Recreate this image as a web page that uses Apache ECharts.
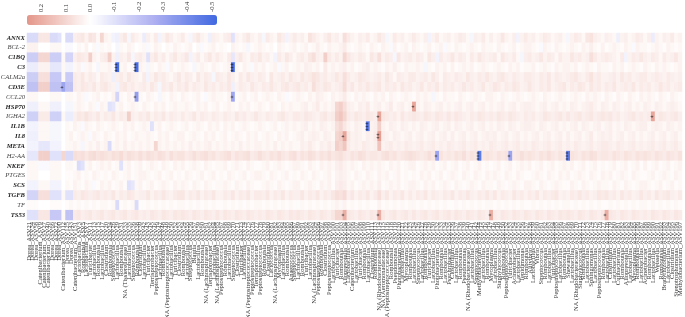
<!DOCTYPE html>
<html lang="en">
<head>
<meta charset="UTF-8">
<title>Gene - ASV correlation heatmap</title>
<script src="https://cdn.jsdelivr.net/npm/echarts@6.0.0/dist/echarts.min.js"></script>
<style>
  html, body { margin: 0; padding: 0; background: #fff; }
  #main { width: 685px; height: 317px; }
</style>
</head>
<body>
<div id="main"></div>
<script>
// genes, top to bottom
const genes = ['ANNX','BCL-2','C1BQ','C3','CALM2a','CD3E','CCL20','HSP70','IGHA2','IL1B',
  'IL8','META','H2-AA','NKEF','PTGES','SCS','TGFB','TF','TS53'];
const plainGenes = ['BCL-2','CALM2a','CCL20','IGHA2','H2-AA','PTGES','TF'];

const taxa = [
  'Dorea_ASV21','Dorea_ASV34','Dorea_ASV58','Catenibacterium_ASV9','Catenibacterium_ASV27','Catenibacterium_ASV40','Dorea_ASV66','Dorea_ASV72','Dorea_ASV90','Catenibacterium_ASV112',
  'Dorea_ASV125','Dorea_ASV143','Catenibacterium_ASV151','Lactobacillus_ASV3','Romboutsia_ASV5','Lactobacillus_ASV7','Turicibacter_ASV11','Lactobacillus_ASV13','Romboutsia_ASV15','Lactobacillus_ASV17',
  'Clostridium_ASV20','Romboutsia_ASV24','Streptococcus_ASV26','Lactobacillus_ASV29','Romboutsia_ASV31','NA (Tissierellaceae)_ASV33','Lactobacillus_ASV35','Streptococcus_ASV36','Romboutsia_ASV38','Clostridium_ASV39',
  'Lactobacillus_ASV42','Turicibacter_ASV43','Terrisporobacter_ASV45','Peptostreptococcus_ASV46','Lactobacillus_ASV47','Romboutsia_ASV48','NA (Peptostreptococcaceae)_ASV49','Lactobacillus_ASV50','Turicibacter_ASV52','Clostridium_ASV53',
  'Romboutsia_ASV54','Lactobacillus_ASV55','Streptococcus_ASV56','Blautia_ASV57','Lactobacillus_ASV59','Romboutsia_ASV60','NA (Lachnospiraceae)_ASV61','Terrisporobacter_ASV62','Lactobacillus_ASV64','NA (Lachnospiraceae)_ASV65',
  'Peptostreptococcus_ASV67','Romboutsia_ASV68','Lactobacillus_ASV69','Streptococcus_ASV70','Clostridium_ASV71','Turicibacter_ASV73','Lactobacillus_ASV74','NA (Peptostreptococcaceae)_ASV75','Peptostreptococcus_ASV76','Terrisporobacter_ASV77',
  'Peptostreptococcus_ASV78','Romboutsia_ASV79','Clostridium_ASV80','Lactococcus_ASV81','NA (Lachnospiraceae)_ASV82','Mycoplasma_ASV83','Lactobacillus_ASV84','Romboutsia_ASV85','Anaerococcus_ASV86','Streptococcus_ASV87',
  'Lactobacillus_ASV89','Romboutsia_ASV91','Turicibacter_ASV92','Lactobacillus_ASV93','NA (Lachnospiraceae)_ASV94','Peptostreptococcus_ASV96','Romboutsia_ASV97','Clostridium_ASV98','Peptostreptococcus_ASV99','Lactobacillus_ASV100',
  'Turicibacter_ASV101','Romboutsia_ASV103','Alloprevotella_ASV104','Lactobacillus_ASV105','Catenibacterium_ASV106','Lactobacillus_ASV107','Turicibacter_ASV108','Romboutsia_ASV109','Lactobacillus_ASV110','Clostridium_ASV111',
  'Romboutsia_ASV113','NA (Rhodobacteraceae)_ASV114','NA (Aeromonadaceae)_ASV115','NA (Peptostreptococcaceae)_ASV116','Romboutsia_ASV118','Pseudomonas_ASV119','Photobacterium_ASV120','Lactobacillus_ASV121','Mycoplasma_ASV122','Romboutsia_ASV123',
  'Lactobacillus_ASV124','Streptococcus_ASV126','Lactobacillus_ASV127','Romboutsia_ASV128','Turicibacter_ASV129','Lactobacillus_ASV130','Photobacterium_ASV132','Romboutsia_ASV133','Lactobacillus_ASV134','Psychrobacter_ASV135',
  'Clostridium_ASV136','Lactobacillus_ASV137','Romboutsia_ASV138','Pseudomonas_ASV139','NA (Rhodobacteraceae)_ASV140','Lactobacillus_ASV141','Streptococcus_ASV142','Methylobacterium_ASV144','Lactobacillus_ASV145','Romboutsia_ASV146',
  'Mycoplasma_ASV147','Lactobacillus_ASV148','Staphylococcus_ASV149','Romboutsia_ASV150','Peptostreptococcus_ASV152','Turicibacter_ASV153','Acinetobacter_ASV154','Lactobacillus_ASV155','Tepidimonas_ASV156','Romboutsia_ASV157',
  'Aliivibrio_ASV158','Lactobacillus_ASV159','Vibrio_ASV160','Streptococcus_ASV161','Romboutsia_ASV162','Lactobacillus_ASV163','Turicibacter_ASV164','Peptostreptococcus_ASV165','Lactobacillus_ASV166','Romboutsia_ASV167',
  'Shewanella_ASV168','Lactobacillus_ASV169','NA (Rhodobacteraceae)_ASV170','Staphylococcus_ASV171','Romboutsia_ASV172','Lactobacillus_ASV173','Sphingomonas_ASV174','Lactobacillus_ASV175','Peptostreptococcus_ASV176','Romboutsia_ASV177',
  'Lactobacillus_ASV178','Clostridium_ASV179','Lactobacillus_ASV180','Cutibacterium_ASV181','Romboutsia_ASV182','Alloprevotella_ASV183','Lactobacillus_ASV184','Mycoplasma_ASV185','Romboutsia_ASV186','Lactobacillus_ASV187',
  'Acinetobacter_ASV188','Romboutsia_ASV189','Lactobacillus_ASV190','Weissella_ASV191','Romboutsia_ASV192','Bradyrhizobium_ASV193','Lactobacillus_ASV194','Clostridium_ASV195','Stenotrophomonas_ASV196','Methylobacterium_ASV197'
];

// correlation of each gene with each ASV (same order as taxa)
const ANNX = [
  -.12,-.12,-.12,.06,.06,.06,-.12,-.12,-.1,0,
  -.12,-.12,.04,.05,.06,.03,.07,.06,.02,.1,
  .03,.02,-.04,-.05,.04,.06,-.03,.05,.03,.02,
  -.06,.04,.02,.05,-.04,.03,.06,.04,.02,.03,
  .05,.02,-.03,.04,.06,.03,.02,-.05,.04,.03,
  .02,.04,.05,-.1,.03,.02,.04,.06,.03,.02,
  .04,-.03,.05,.03,.02,.06,.04,-.04,.03,.05,
  .03,.04,.02,.07,.05,.03,.02,.04,.06,.03,
  .04,.02,.08,.05,.03,.02,.04,.03,.05,.02,
  .03,.06,.04,-.03,.02,.05,.03,.04,.02,.03,
  .05,.03,.02,.04,-.04,.03,.05,.02,.03,.04,
  .02,.03,.05,.04,.02,-.03,.04,.03,.05,.02,
  .04,.02,.03,.06,.03,.02,.04,-.04,.03,.05,
  .03,.04,.02,.03,.05,.04,.02,.03,.04,.02,
  -.03,.03,.05,.04,.02,.06,.07,.04,.03,.02,
  .04,.03,.02,-.05,.03,.04,.02,.03,.05,.04,
  .02,.04,-.06,.03,.02,.04,.03,.05,.02,.03
];
const BCL2 = [
  .03,.03,.03,0,0,0,.02,.02,.02,0,
  -.02,-.02,0,.02,.01,.03,0,.02,-.02,.02,
  .01,.02,0,-.03,.02,.01,.03,.02,0,.01,
  .02,-.02,.01,.03,.02,0,.02,.01,.03,.02,
  .01,.02,.03,0,.02,-.02,.01,.02,.03,.01,
  .02,.01,0,.03,.02,.01,.02,-.03,.01,.02,
  .03,.02,.01,.02,0,.03,.02,.01,.02,.03,
  .01,.02,.03,.01,.02,.04,.02,.01,.03,.02,
  .02,.03,.05,.02,.01,.02,.03,.02,.01,.03,
  .02,.01,.03,.02,-.02,.03,.01,.02,.03,.01,
  .03,.02,.01,.02,.03,.01,.02,.03,-.02,.02,
  .01,.03,.02,.01,.02,.03,.02,.01,.03,.02,
  .02,.01,.03,.02,.01,.02,.03,.01,.02,.03,
  .03,.02,.01,-.02,.03,.02,.01,.03,.02,.01,
  .02,.03,.02,.01,.03,.02,.04,.02,.01,.03,
  .01,.02,.03,.02,.01,.03,.02,-.02,.03,.02,
  .02,.01,.02,.03,.02,.01,.03,.02,.01,.02
];
const C1BQ = [
  -.16,-.16,-.16,.1,.1,.1,-.16,-.16,-.16,.02,
  -.14,-.14,.04,.06,.05,.04,.12,.03,.02,.04,
  .05,.12,.03,-.05,.04,.03,.06,-.03,.04,.05,
  .03,-.1,.04,.06,.03,.05,.02,.04,.06,.03,
  .04,.06,-.04,.03,.05,.02,.04,.06,.03,.05,
  .03,.02,.05,-.08,.04,.06,.03,.02,.05,.04,
  .06,.03,.04,.02,-.04,.05,.03,.06,.04,.02,
  .04,.05,.03,.06,.08,.04,.03,.12,.05,.03,
  .05,.03,.1,.06,.04,.03,.05,.04,.02,.06,
  .04,.08,.03,.05,.04,-.03,.06,.03,.04,.05,
  .03,.05,.04,.02,.06,.04,-.04,.05,.03,.04,
  .06,.03,.05,.04,.02,.05,.03,.06,.04,.03,
  .04,.05,.02,.06,.04,.03,.05,.02,-.03,.04,
  .05,.03,.04,.06,.03,.05,.04,.02,.05,.03,
  .03,.06,.04,.05,.03,.04,.08,.05,.03,.04,
  .05,.04,.03,.02,.05,-.04,.03,.05,.04,.06,
  .04,.03,.05,.04,.02,.05,.03,.04,.06,.03
];
const C3 = [
  -.06,-.06,-.06,.03,.03,.03,-.08,-.08,-.08,.02,
  -.04,-.04,.02,.03,-.02,.02,.03,.01,-.03,.02,
  .02,.03,-.02,-.5,.02,.03,.01,.02,-.5,.03,
  .02,-.03,.02,.01,.03,.02,-.02,.03,.01,.02,
  .03,.02,.01,-.03,.02,.03,.02,.01,.03,.02,
  .01,.02,.03,-.5,.02,.01,.03,.02,-.02,.03,
  .02,.03,.01,.02,.03,-.02,.02,.03,.01,.02,
  .03,.02,.04,.03,.02,.03,.01,.05,.02,.03,
  .02,.03,.04,.02,.03,.01,.02,.03,.04,.02,
  .03,.02,.01,.03,.02,.04,.02,.01,.03,.02,
  .02,.03,.02,-.03,.02,.01,.03,.02,.03,.01,
  .03,.01,.02,.03,.02,.03,.01,.02,.03,.02,
  .01,.02,.03,.02,.01,.03,.02,.03,.01,.02,
  .02,.03,.01,.02,.03,.02,.01,.03,.02,.03,
  .03,.02,.03,.01,.02,.03,.02,.01,.03,.02,
  .02,.01,.03,.02,.03,.01,.02,.03,.02,.01,
  .03,.02,.01,.03,.02,.03,.02,.01,.02,.03
];
const CALM2a = [
  -.16,-.16,-.16,.08,.08,.08,-.18,-.18,-.18,.02,
  -.17,-.17,.05,.04,.06,.03,.05,.04,.02,.05,
  .04,.03,-.05,.04,.05,.03,.06,.04,.03,.02,
  .05,-.04,.03,.06,.04,.05,.03,.02,.04,.06,
  .03,.05,.04,.02,.06,.03,.05,.04,-.03,.05,
  .04,.03,.06,.04,.02,.05,.03,.06,.04,.03,
  .05,.04,.02,.06,.03,.04,.05,.03,.06,.04,
  .03,.06,.04,.05,.07,.06,.04,.05,.03,.04,
  .06,.04,.08,.05,.03,.04,.06,.05,.04,.03,
  .04,.05,.03,.06,.04,.02,.05,.04,.03,.05,
  .05,.03,.04,.05,.03,.06,.04,.02,.05,.04,
  .03,.05,.04,.03,.06,.04,.03,.05,.04,.06,
  .04,.03,.05,.06,.04,.03,.05,.04,.03,.05,
  .05,.04,.03,.05,.04,.06,.03,.05,.04,.03,
  .04,.05,.06,.04,.03,.05,.07,.04,.05,.03,
  .03,.04,.05,.03,.06,.04,.05,.03,.04,.05,
  .05,.03,.04,.05,.04,.03,.05,.04,.03,.04
];
const CD3E = [
  -.2,-.2,-.2,.12,.12,.12,-.2,-.2,-.2,-.3,
  -.2,-.2,.05,.04,.06,.05,.04,.06,.03,.05,
  .06,.04,.03,-.04,.05,.06,.04,.05,.03,.04,
  .05,.03,.06,.04,-.03,.05,.04,.06,.03,.05,
  .04,.06,.03,.05,.04,.03,.06,.04,.05,.03,
  .05,.04,.06,-.05,.03,.05,.04,.03,.06,.04,
  .03,.05,.04,.06,.04,.03,.05,.06,.04,.05,
  .06,.04,.05,.03,.08,.05,.04,.06,.05,.03,
  .04,.05,.09,.04,.06,.03,.05,.04,.06,.04,
  .05,.06,.03,.05,.04,.05,.03,.06,.04,.05,
  .03,.04,.06,.03,.05,.04,.06,.03,.05,.04,
  .05,.03,.04,.06,.04,.05,.03,.04,.06,.03,
  .04,.06,.05,.03,.05,.04,.06,.05,.03,.04,
  .06,.04,.03,.05,.04,.06,.03,.04,.05,.06,
  .03,.05,.04,.06,.05,.03,.06,.04,.05,.03,
  .05,.04,.06,.03,.04,.05,.04,.06,.03,.05,
  .04,.05,.03,.04,.06,.04,.05,.03,.04,.05
];
const CCL20 = [
  .02,.02,.02,0,0,0,.02,.02,.02,0,
  .02,.02,.01,.03,.02,-.02,.01,.02,.03,.01,
  .02,.01,.03,-.14,.02,.01,.03,.02,-.32,.02,
  .01,.03,.02,.01,-.03,.02,.01,.03,.02,.01,
  .03,.02,.01,.02,.03,.01,-.02,.02,.03,.02,
  .02,.01,.03,-.3,.01,.02,.03,.01,.02,.03,
  .01,.02,.03,.02,.01,.03,.02,-.02,.01,.02,
  .03,.02,.01,.03,.02,.04,.03,.02,.01,.03,
  .02,.03,.05,.02,.01,.03,.02,.03,.02,.01,
  .03,.02,.03,.01,.03,.02,.01,.02,.03,.02,
  .01,.03,.02,.03,.02,-.03,.02,.01,.03,.02,
  .02,.01,.03,.02,.01,.02,.03,.02,.01,.03,
  .03,.02,.01,.03,.02,.01,.02,.03,.02,.01,
  .02,.03,.02,.01,.03,.02,.01,.02,.03,.02,
  .01,.02,.03,.02,.01,.03,.02,.03,.02,.01,
  .03,.02,.01,.03,.02,.01,.03,.02,.01,.03,
  .02,.03,.02,.01,.03,.02,.01,.03,.02,.01
];
const HSP70 = [
  -.05,-.05,-.05,.02,.02,.02,-.05,-.05,-.05,0,
  -.03,-.03,.02,.03,.02,.01,.03,.02,-.02,.03,
  .02,-.1,-.08,.02,.03,.01,.02,.03,.02,.01,
  .03,.02,.01,.03,.02,.03,.01,.02,.03,.02,
  .02,.03,.02,.01,.03,.02,.03,.01,.02,.03,
  .01,.02,.03,.02,.01,.03,.02,.03,.01,.02,
  .03,.02,.01,.03,.02,.01,.03,.02,.03,.02,
  .02,.03,.04,.02,.03,.05,.02,.03,.02,.03,
  .1,.12,.08,.04,.03,.02,.04,.03,.05,.02,
  .03,.04,.02,.03,.05,.02,.03,.04,.02,.03,
  .22,.03,.02,.04,.03,.02,.03,.04,.02,.03,
  .02,.03,.04,.02,.03,.04,.02,.03,.04,.02,
  .03,.02,.03,.04,.02,.03,.04,.02,.03,.04,
  .04,.03,.02,.03,.04,.02,.03,.04,.02,.03,
  .02,.04,.03,.02,.03,.04,.05,.03,.02,.04,
  .03,.02,.04,.03,.02,.03,.04,.02,.03,.02,
  .04,.03,.02,.04,.03,.02,.03,.04,.03,.02
];
const IGHA2 = [
  -.15,-.15,-.15,.05,.05,.05,-.15,-.15,-.15,.02,
  -.06,-.06,.04,.06,.05,.07,.05,.04,.06,.03,
  .05,.04,.06,.03,.05,.04,.12,.04,.03,.05,
  .04,.06,.03,.05,.04,.06,.03,.05,.04,.03,
  .05,.03,.04,.06,.03,.05,.04,.03,.05,.04,
  .03,.05,.04,.03,.06,.04,.05,.03,.04,.06,
  .04,.03,.05,.04,.03,.05,.06,.04,.03,.05,
  .05,.04,.06,.05,.04,.03,.05,.06,.04,.05,
  .12,.14,.1,.05,.04,.06,.05,.04,.06,.05,
  .04,.22,.06,.05,.04,.05,.03,.06,.04,.05,
  .06,.05,.04,.06,.05,.04,.06,.05,.04,.06,
  .04,.06,.05,.04,.03,.05,.04,.06,.05,.04,
  .05,.04,.06,.05,.04,.06,.05,.04,.03,.05,
  .04,.05,.03,.04,.06,.05,.04,.05,.06,.04,
  .06,.04,.05,.06,.04,.05,.06,.04,.05,.06,
  .05,.06,.04,.05,.03,.04,.05,.06,.04,.05,
  .04,.05,.22,.04,.06,.05,.04,.05,.06,.04
];
const IL1B = [
  -.04,-.04,-.04,.02,.02,.02,-.03,-.03,-.03,0,
  .02,.01,.03,.02,-.02,.03,.02,.01,.03,.02,
  .01,.02,.03,.02,.01,.03,.02,.03,.01,.02,
  .03,.02,-.1,.02,.03,.01,.02,.03,.02,.01,
  .02,.03,.01,.02,.03,.02,.01,.03,.02,.03,
  .01,.03,.02,.03,.01,.02,.03,.02,.01,.02,
  .03,.02,.01,.02,.03,.01,.02,.03,.02,.03,
  .02,.03,.04,.02,.03,.02,.04,.03,.02,.03,
  .08,.1,.06,.03,.02,.04,.03,.02,-.45,.03,
  .04,.12,.03,.02,.04,.03,.02,.04,.03,.02,
  .03,.02,.04,.03,.02,.03,.04,.02,.03,.04,
  .02,.04,.03,.02,.03,.04,.02,.03,.04,.02,
  .03,.02,.04,.03,.02,.04,.03,.02,.03,.04,
  .04,.03,.02,.04,.03,.02,.03,.04,.02,.03,
  .02,.03,.04,.02,.04,.03,.02,.03,.04,.02,
  .03,.04,.02,.03,.02,.04,.03,.02,.03,.04,
  .04,.02,.03,.04,.03,.02,.04,.03,.02,.03
];
const IL8 = [
  -.05,-.05,-.05,.02,.02,.02,-.03,-.03,-.03,0,
  .02,.03,.01,.02,.03,.02,-.02,.03,.02,.01,
  .03,.02,.01,.03,.02,.03,.01,.02,.03,.02,
  .02,.03,.02,.01,.03,.02,.03,.01,.02,.03,
  .03,.01,.02,.03,.02,.01,.03,.02,.03,.01,
  .02,.03,.01,.02,.03,.02,.01,.03,.02,.03,
  .01,.02,.03,.02,.01,.03,.02,.03,.01,.02,
  .03,.04,.02,.03,.04,.03,.02,.04,.03,.02,
  .1,.12,.22,.06,.03,.04,.03,.02,.04,.03,
  .05,.24,.04,.03,.02,.04,.03,.02,.03,.04,
  .02,.03,.04,.02,.03,.04,.02,.03,.04,.02,
  .04,.02,.03,.04,.02,.03,.04,.02,.03,.04,
  .03,.04,.02,.03,.04,.02,.03,.04,.02,.03,
  .02,.03,.04,.02,.03,.04,.02,.03,.04,.02,
  .04,.02,.03,.04,.02,.03,.05,.02,.03,.04,
  .03,.04,.02,.03,.04,.02,.03,.04,.02,.03,
  .02,.03,.04,.02,.03,.04,.02,.03,.04,.02
];
const META = [
  -.04,-.04,-.04,-.08,-.08,-.08,-.04,-.04,-.04,0,
  .02,.02,.03,.02,-.03,.02,.03,.02,.04,.02,
  .03,-.12,.02,.03,.02,.04,.02,.03,.02,.03,
  .02,.03,.02,.1,.03,.02,.03,.02,.03,.02,
  .03,.02,.04,.02,.03,.02,.03,.04,.02,.03,
  .02,.03,.02,.03,.02,.04,.02,.03,.02,.03,
  .03,.02,.03,.02,.04,.02,.03,.02,.03,.02,
  .02,.04,.03,.05,.03,.02,.04,.03,.05,.03,
  .12,.1,.14,.05,.03,.04,.03,.05,.04,.03,
  .04,.15,.03,.04,.05,.03,.04,.03,.05,.04,
  .03,.04,.05,.03,.04,.05,.03,.04,.03,.05,
  .04,.03,.04,.05,.03,.04,.05,.03,.04,.03,
  .05,.04,.03,.04,.05,.03,.04,.05,.03,.04,
  .03,.05,.04,.03,.04,.05,.03,.04,.05,.03,
  .04,.03,.05,.04,.03,.04,.05,.03,.04,.05,
  .05,.04,.03,.05,.04,.03,.04,.05,.03,.04,
  .03,.04,.05,.03,.04,.05,.03,.04,.05,.03
];
const H2AA = [
  -.08,-.08,-.08,.12,.12,.12,-.1,-.1,-.1,.1,
  -.12,-.12,.08,.07,.08,.06,.08,.09,.07,.08,
  .07,.06,.08,.07,.09,.06,.08,.07,.06,.08,
  .06,.08,.07,.06,.08,.07,.05,.08,.06,.07,
  .07,.05,.06,.08,.06,.07,.08,.06,.07,.05,
  .06,.07,.08,.05,.07,.06,.07,.08,.05,.06,
  .08,.06,.05,.07,.06,.08,.06,.05,.07,.08,
  .05,.07,.06,.08,.07,.05,.07,.06,.08,.06,
  .07,.08,.06,.05,.07,.06,.08,.07,.05,.06,
  .06,.05,.07,.08,.06,.07,.05,.06,.07,.08,
  .07,.06,.05,.06,.08,.06,-.3,.07,.05,.06,
  .05,.07,.06,.08,.05,.07,.06,-.45,.06,.07,
  .06,.05,.07,.06,.07,-.3,.05,.06,.08,.06,
  .07,.06,.05,.07,.06,.08,.06,.05,.07,.06,
  -.45,.07,.06,.05,.07,.06,.08,.07,.05,.06,
  .06,.05,.07,.06,.05,.07,.06,.05,.07,.06,
  .07,.06,.05,.07,.06,.05,.07,.06,.05,.07
];
const NKEF = [
  .02,.02,.02,-.02,-.02,-.02,.02,.02,.02,0,
  .02,.02,.01,-.12,-.1,.02,.03,.01,.02,.03,
  .02,.03,.01,.02,-.1,.02,.03,.01,.02,.03,
  .01,.02,.03,.02,.01,.03,.02,.01,.03,.02,
  .03,.01,.02,.03,.02,.01,.03,.02,.01,.02,
  .02,.03,.01,.02,.03,.02,.01,.03,.02,.01,
  .01,.02,.03,.01,.02,.03,.02,.01,.02,.03,
  .03,.02,.01,.03,.02,.01,.03,.02,.03,.02,
  .04,.05,.03,.02,.03,.02,.01,.03,.02,.03,
  .02,.03,.02,.01,.03,.02,.03,.01,.02,.03,
  .03,.01,.02,.03,.02,.03,.01,.02,.03,.01,
  .02,.03,.01,.02,.03,.01,.02,.03,.01,.02,
  .01,.02,.03,.01,.02,.03,.01,.02,.03,.02,
  .03,.01,.02,.03,.01,.02,.03,.01,.02,.03,
  .02,.03,.01,.02,.03,.01,.02,.03,.01,.02,
  .01,.02,.03,.01,.02,.03,.01,.02,.03,.01,
  .03,.01,.02,.03,.01,.02,.03,.01,.02,.03
];
const PTGES = [
  .02,.02,.02,0,0,0,.02,.02,.02,0,
  .01,.01,.02,.03,.01,.02,.01,.03,.02,.01,
  .02,.01,.03,.02,.01,.02,.03,.01,.02,.03,
  .03,.02,.01,.02,.03,.01,.02,.03,.01,.02,
  .01,.03,.02,.01,.02,.03,.01,.02,.03,.01,
  .02,.01,.03,.02,.01,.02,.03,.01,.02,.03,
  .03,.02,.01,.03,.02,.01,.02,.03,.01,.02,
  .01,.03,.02,.01,.03,.02,.01,.02,.03,.01,
  .03,.04,.03,.02,.01,.03,.02,.01,.03,.02,
  .01,.03,.02,.03,.01,.02,.03,.01,.02,.01,
  .02,.01,.03,.02,.03,.01,.02,.03,.01,.02,
  .03,.02,.01,.03,.02,.01,.03,.02,.01,.03,
  .02,.03,.02,.01,.03,.02,.01,.03,.02,.01,
  .01,.02,.03,.02,.01,.03,.02,.01,.03,.02,
  .03,.01,.02,.03,.02,.01,.03,.02,.01,.03,
  .02,.03,.01,.02,.03,.02,.01,.03,.02,.01,
  .01,.02,.03,.01,.02,.03,.02,.01,.03,.02
];
const SCS = [
  -.04,-.04,-.04,.02,.02,.02,-.04,-.04,-.04,0,
  .02,.01,.03,.02,.01,.03,.02,-.02,.01,.03,
  .02,.03,.01,.02,.03,.01,-.1,-.08,.02,.03,
  .01,.02,.03,.01,.02,.03,.02,.01,.03,.02,
  .03,.02,.01,.03,.02,.01,.03,.02,.01,.02,
  .02,.03,.02,.01,.03,.02,.01,.03,.02,.01,
  .01,.02,.03,.02,.01,.03,.02,.01,.02,.03,
  .03,.01,.02,.03,.02,.01,.03,.02,.03,.01,
  .04,.05,.04,.02,.03,.01,.02,.03,.02,.03,
  .02,.04,.01,.02,.03,.02,.03,.01,.02,.03,
  .03,.02,.01,.03,.02,.03,.01,.02,.03,.02,
  .01,.03,.02,.01,.02,.03,.02,.01,.03,.02,
  .02,.01,.03,.02,.01,.02,.03,.02,.01,.03,
  .03,.02,.01,.03,.02,.01,.02,.03,.02,.01,
  .01,.03,.02,.01,.03,.02,.01,.02,.03,.02,
  .02,.01,.03,.02,.01,.03,.02,.01,.02,.03,
  .03,.02,.01,.02,.03,.01,.02,.03,.01,.02
];
const TGFB = [
  -.14,-.14,-.14,.08,.08,.08,-.1,-.1,-.1,.02,
  -.1,-.1,.05,.04,.06,.05,.04,.05,.06,.04,
  .05,.04,.06,.03,.05,.04,.06,.05,.03,.04,
  .04,.06,.03,.05,.04,.06,.04,.03,.05,.06,
  .06,.03,.05,.04,.06,.03,.05,.04,.06,.03,
  .03,.05,.04,.06,.03,.05,.04,.06,.03,.05,
  .05,.04,.06,.03,.05,.04,.06,.03,.05,.04,
  .04,.06,.03,.05,.04,.06,.03,.05,.04,.06,
  .08,.07,.09,.04,.06,.03,.05,.04,.06,.03,
  .05,.08,.04,.06,.03,.05,.04,.06,.03,.05,
  .03,.05,.04,.06,.03,.05,.04,.03,.05,.04,
  .06,.03,.05,.04,.06,.04,.03,.05,.04,.06,
  .04,.06,.03,.05,.04,.03,.06,.04,.05,.03,
  .05,.04,.06,.03,.05,.04,.05,.06,.03,.04,
  .03,.05,.04,.06,.04,.05,.03,.04,.06,.05,
  .06,.04,.05,.03,.06,.04,.05,.03,.04,.06,
  .04,.05,.03,.06,.04,.05,.06,.04,.03,.05
];
const TF = [
  .01,.01,.01,0,0,0,.01,.01,.01,0,
  .01,.02,.01,.02,.01,.02,.01,.02,.01,.02,
  .02,.01,.02,-.12,.01,.02,.01,.02,-.12,.01,
  .01,.02,.01,.02,.01,.02,.01,.02,.01,.02,
  .02,.01,.02,.01,.02,.01,.02,.01,.02,.01,
  .01,.02,.01,.02,.01,.02,.01,.02,.01,.02,
  .02,.01,.02,.01,.02,.01,.02,.01,.02,.01,
  .01,.02,.01,.02,.01,.02,.01,.02,.01,.02,
  .03,.02,.03,.01,.02,.01,.02,.01,.02,.01,
  .01,.03,.01,.02,.01,.02,.01,.02,.01,.02,
  .02,.01,.02,.01,.02,.01,.02,.01,.02,.01,
  .01,.02,.01,.02,.01,.02,.01,.02,.01,.02,
  .02,.01,.02,.01,.02,.01,.02,.01,.02,.01,
  .01,.02,.01,.02,.01,.02,.01,.02,.01,.02,
  .02,.01,.02,.01,.02,.01,.02,.01,.02,.01,
  .01,.02,.01,.02,.01,.02,.01,.02,.01,.02,
  .02,.01,.02,.01,.02,.01,.02,.01,.02,.01
];
const TS53 = [
  -.1,-.1,-.1,.06,.06,.06,-.18,-.18,-.18,.02,
  -.2,-.2,.05,.06,.04,.05,.06,.04,.05,.06,
  .04,.05,.06,.04,.05,.06,.04,.05,.06,.04,
  .05,.04,.06,.05,.04,.06,.05,.04,.06,.05,
  .06,.05,.04,.06,.05,.04,.06,.05,.04,.06,
  .04,.06,.05,.04,.06,.05,.04,.06,.05,.04,
  .05,.04,.06,.05,.04,.06,.05,.04,.06,.05,
  .06,.05,.04,.06,.05,.04,.06,.05,.04,.06,
  .1,.1,.2,.06,.05,.04,.06,.05,.04,.06,
  .05,.2,.06,.04,.05,.06,.04,.05,.06,.04,
  .06,.04,.05,.06,.04,.05,.06,.04,.05,.06,
  .04,.06,.05,.04,.06,.05,.04,.06,.05,.04,
  .2,.05,.04,.06,.05,.04,.06,.05,.04,.06,
  .05,.04,.06,.05,.04,.06,.05,.04,.06,.05,
  .06,.05,.04,.06,.05,.04,.06,.05,.04,.06,
  .2,.06,.05,.04,.06,.05,.04,.06,.05,.04,
  .05,.04,.06,.05,.04,.06,.05,.04,.06,.05
];

// significance marks: [taxon index, gene index, stars]
const sig = [
  [23,3,'***'],[28,3,'***'],[53,3,'***'],[9,5,'*'],[28,6,'*'],[53,6,'*'],
  [100,7,'*'],[91,8,'*'],[162,8,'*'],[88,9,'***'],[82,10,'*'],[91,10,'**'],
  [106,12,'*'],[117,12,'***'],[125,12,'*'],[140,12,'***'],
  [82,18,'*'],[91,18,'*'],[120,18,'*'],[150,18,'*']
];

const legendTicks = [0.2, 0.1, 0.0, -0.1, -0.2, -0.3, -0.4, -0.5];

const geneRows = [ANNX,BCL2,C1BQ,C3,CALM2a,CD3E,CCL20,HSP70,IGHA2,IL1B,IL8,META,H2AA,NKEF,PTGES,SCS,TGFB,TF,TS53];
const cells = [];
geneRows.forEach((row, g) => row.forEach((v, t) => cells.push([t, g, v])));

const chart = echarts.init(document.getElementById('main'));
chart.setOption({
  animation: false,
  backgroundColor: '#fff',
  grid: [
    { left: 27, right: 3, top: 33, bottom: 97, outerBoundsMode: 'none' },
    { left: 27, top: 15, width: 190, height: 10, outerBoundsMode: 'none' }
  ],
  xAxis: [
    {
      type: 'category', data: taxa, gridIndex: 0,
      axisLine: { show: false },
      axisTick: { length: 3, lineStyle: { color: '#333' } },
      axisLabel: { rotate: 90, interval: 0, margin: 2, fontFamily: 'Liberation Serif', fontSize: 6.5, color: '#333' }
    },
    {
      type: 'value', gridIndex: 1, position: 'top', min: -0.52, max: 0.26, inverse: true,
      axisLine: { show: false }, splitLine: { show: false },
      axisTick: { show: true, customValues: legendTicks, length: 3, lineStyle: { color: '#333' } },
      axisLabel: { customValues: legendTicks, rotate: 90, margin: 3, fontFamily: 'Liberation Serif', fontSize: 6.5, color: '#333',
        formatter: v => v.toFixed(1) }
    }
  ],
  yAxis: [
    {
      type: 'category', data: genes, inverse: true, gridIndex: 0,
      axisLine: { show: false },
      axisTick: { length: 3, interval: 0, lineStyle: { color: '#333' } },
      axisLabel: {
        interval: 0, margin: 2,
        formatter: v => plainGenes.includes(v) ? '{p|' + v + '}' : '{b|' + v + '}',
        rich: {
          b: { fontFamily: 'Liberation Serif', fontStyle: 'italic', fontWeight: 'bold', fontSize: 6.6, color: '#222' },
          p: { fontFamily: 'Liberation Serif', fontStyle: 'italic', fontSize: 6.6, color: '#444' }
        }
      }
    },
    { type: 'value', gridIndex: 1, show: false }
  ],
  visualMap: {
    type: 'continuous', seriesIndex: 0, min: -0.52, max: 0.26,
    orient: 'horizontal', inverse: true, calculable: false, text: ['', ''],
    left: 27, top: 15, itemWidth: 10, itemHeight: 190, padding: 0,
    inRange: { color: ['#4169E1', '#AEB0F1', '#FFFFFF', '#E49689'] }
  },
  series: [
    {
      type: 'heatmap', xAxisIndex: 0, yAxisIndex: 0, data: cells,
      itemStyle: { borderWidth: 0 },
      emphasis: { disabled: true }
    },
    {
      type: 'scatter', xAxisIndex: 0, yAxisIndex: 0, symbolSize: 0, silent: true,
      data: sig.map(s => [s[0], s[1], s[2]]),
      label: { show: true, position: 'inside', rotate: 90, formatter: p => p.data[2],
        fontSize: 6, color: '#000', fontFamily: 'DejaVu Sans' }
    }
  ]
});
</script>
</body>
</html>
